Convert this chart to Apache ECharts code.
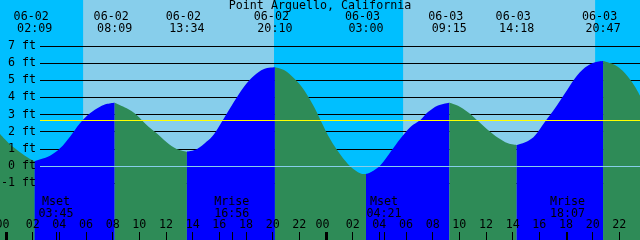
<!DOCTYPE html>
<html><head><meta charset="utf-8">
<script src="https://cdn.jsdelivr.net/npm/echarts@6/dist/echarts.min.js"></script>
<style>html,body{margin:0;padding:0;background:#00BFFF}#c{width:640px;height:240px}</style>
</head><body><div id="c"></div>
<script>
const chartTitle = 'Point Arguello, California';
const startDate = '06-02';
// tide curve (hours from 06-02 00:00, feet)
const tideHours = [-0.45, 0.3, 1.05, 1.8, 2.15, 3.3, 4.05, 4.8, 5.55, 6.3, 7.05, 7.6, 8.15, 9.05, 9.8, 10.55, 11.3, 12.05, 12.8, 13.567, 14.3, 15.05, 15.6, 16.35, 17.1, 17.85, 18.6, 19.35, 20.167, 20.85, 21.6, 22.35, 23.1, 23.6, 24.35, 25.1, 25.85, 26.6, 27.0, 27.35, 28.1, 28.85, 29.6, 30.35, 31.1, 31.65, 32.4, 33.25, 33.9, 34.65, 35.4, 36.15, 36.9, 37.65, 38.3, 39.15, 39.675, 40.425, 41.175, 41.925, 42.675, 43.425, 44.175, 44.783, 45.675, 46.425, 47.175, 47.55];
const tideFeet = [1.86, 1.26, 0.80, 0.41, 0.29, 0.60, 1.03, 1.71, 2.49, 3.07, 3.45, 3.62, 3.69, 3.36, 2.97, 2.39, 1.90, 1.38, 0.99, 0.83, 0.97, 1.42, 1.85, 2.78, 3.74, 4.62, 5.26, 5.65, 5.75, 5.59, 5.11, 4.43, 3.45, 2.65, 1.51, 0.64, -0.04, -0.43, -0.47, -0.37, 0.06, 0.83, 1.61, 2.29, 2.70, 3.14, 3.52, 3.69, 3.51, 3.13, 2.62, 2.10, 1.65, 1.32, 1.22, 1.46, 1.78, 2.58, 3.36, 4.23, 5.11, 5.73, 6.04, 6.12, 5.88, 5.40, 4.62, 4.10];
const eventDates = ['06-02', '06-02', '06-02', '06-02', '06-03', '06-03', '06-03', '06-03'];
const eventTimes = ['02:09', '08:09', '13:34', '20:10', '03:00', '09:15', '14:18', '20:47'];
const eventKinds = ['low', 'high', 'low', 'high', 'low', 'high', 'low', 'high'];
const moonNames = ['Mset', 'Mrise', 'Mset', 'Mrise'];
const moonDates = ['06-02', '06-02', '06-03', '06-03'];
const moonTimes = ['03:45', '16:56', '04:21', '18:07'];
const sunDates = ['06-02', '06-03'];
const sunriseTimes = ['05:47', '05:47'];
const sunsetTimes = ['20:06', '20:11'];
const heightTicks = [-1, 0, 1, 2, 3, 4, 5, 6, 7];
const meanLevel = 2.67;
const hourTicks = [0, 2, 4, 6, 8, 10, 12, 14, 16, 18, 20, 22, 24, 26, 28, 30, 32, 34, 36, 38, 40, 42, 44, 46];
const midnightTicks = [0, 24];

const X_MIN = -0.45, X_MAX = 47.55, Y_MIN = -4.31, Y_MAX = 9.667;
const FONT = 'DejaVu Sans Mono', FS = 11.67;
const C_NIGHT = '#00BFFF', C_DAY = '#87CEEB', C_RISE = '#0000FF', C_FALL = '#2E8B57';

function dayIndex(d) { return parseInt(d.split('-')[1], 10) - parseInt(startDate.split('-')[1], 10); }
function toHours(d, t) { const p = t.split(':').map(Number); return dayIndex(d) * 24 + p[0] + p[1] / 60; }
const pad = n => (n < 10 ? '0' : '') + n;

const evH = eventTimes.map((t, i) => toHours(eventDates[i], t));
const moonH = moonTimes.map((t, i) => toHours(moonDates[i], t));
const dayBands = sunDates.map((d, i) => [{ xAxis: toHours(d, sunriseTimes[i]) }, { xAxis: toHours(d, sunsetTimes[i]) }]);

const txt = { color: '#000', fontFamily: FONT, fontSize: FS, lineHeight: 12 };
const off = { show: false };
const lineOff = { show: false, onZero: false };

// tide segments: rising = blue, falling = green
const bounds = [tideHours[0]].concat(evH, [tideHours[tideHours.length - 1]]);
const segSeries = [];
for (let k = 0; k < bounds.length - 1; k++) {
  const a = bounds[k] - 0.002, b = bounds[k + 1] + 0.002;
  const pts = [];
  tideHours.forEach((t, i) => { if (t >= a && t <= b) pts.push([t, tideFeet[i]]); });
  let rising;
  if (k < evH.length) rising = eventKinds[k] === 'high';
  else rising = eventKinds[evH.length - 1] === 'low';
  segSeries.push({
    type: 'line', xAxisIndex: 0, yAxisIndex: 0, data: pts, smooth: 0.35, symbol: 'none',
    lineStyle: { width: 0 }, areaStyle: { color: rising ? C_RISE : C_FALL, opacity: 1, origin: 'start' },
    z: 3, silent: true
  });
}

const baseX = { type: 'value', gridIndex: 0, min: X_MIN, max: X_MAX, splitLine: off, axisLine: lineOff, axisTick: off, axisLabel: off, z: 5 };
const baseY = { type: 'value', min: Y_MIN, max: Y_MAX, splitLine: off, axisLine: lineOff, axisTick: off, axisLabel: off };

const option = {
  animation: false,
  backgroundColor: C_NIGHT,
  title: { text: chartTitle, left: 'center', top: 0, padding: 0, textStyle: Object.assign({ fontWeight: 'normal' }, txt) },
  grid: [
    { left: 0, right: 0, top: 0, bottom: 0, show: true, backgroundColor: C_NIGHT, borderWidth: 0, containLabel: false, outerBoundsMode: 'none' },
    { left: 40, right: 0, top: 0, bottom: 0, containLabel: false, outerBoundsMode: 'none' }
  ],
  xAxis: [
    Object.assign({}, baseX, {
      position: 'bottom',
      axisTick: { show: true, inside: true, length: 8, customValues: hourTicks, lineStyle: { color: '#000', width: 1 } },
      axisLabel: Object.assign({ show: true, inside: true, margin: 9, customValues: hourTicks,
        formatter: v => { const h = ((Math.round(v) % 24) + 24) % 24; return pad(h) + (h === 0 ? ' ' : ''); } }, txt)
    }),
    Object.assign({}, baseX, {
      position: 'bottom',
      axisTick: { show: true, inside: true, length: 8, customValues: midnightTicks, lineStyle: { color: '#000', width: 3 } }
    }),
    Object.assign({}, baseX, {
      position: 'bottom',
      axisTick: { show: true, inside: true, length: 8, customValues: moonH, lineStyle: { color: '#000', width: 1 } },
      axisLabel: Object.assign({ show: true, inside: true, margin: 20, customValues: moonH,
        formatter: v => { const i = moonH.findIndex(m => Math.abs(m - v) < 1e-6); return i < 0 ? '' : moonNames[i] + '\n' + moonTimes[i]; } }, txt)
    }),
    Object.assign({}, baseX, {
      position: 'top',
      axisLabel: Object.assign({ show: true, inside: true, margin: 11, customValues: evH,
        formatter: v => { const i = evH.findIndex(m => Math.abs(m - v) < 1e-6); return i < 0 ? '' : eventDates[i] + ' \n' + eventTimes[i]; } }, txt)
    }),
    { type: 'value', gridIndex: 1, min: 0, max: 1, show: false, axisLine: lineOff }
  ],
  yAxis: [
    Object.assign({}, baseY, { gridIndex: 0, z: 6,
      axisLabel: Object.assign({ show: true, inside: true, align: 'right', margin: 36, customValues: heightTicks, formatter: v => v + ' ft' }, txt)
    }),
    Object.assign({}, baseY, { gridIndex: 1, z: 2,
      axisTick: { show: false, customValues: heightTicks },
      splitLine: { show: true, lineStyle: { color: '#000', width: 1 } }
    }),
    Object.assign({}, baseY, { gridIndex: 1, z: 4,
      axisTick: { show: false, customValues: [0] },
      splitLine: { show: true, lineStyle: { color: C_DAY, width: 1 } }
    }),
    Object.assign({}, baseY, { gridIndex: 1, z: 4,
      axisTick: { show: false, customValues: [meanLevel] },
      splitLine: { show: true, lineStyle: { color: '#FFFF00', width: 1 } }
    })
  ],
  series: [
    { type: 'line', xAxisIndex: 0, yAxisIndex: 0, data: [], silent: true,
      markArea: { silent: true, z: 1, itemStyle: { color: C_DAY, borderWidth: 0 }, data: dayBands } }
  ].concat(segSeries)
};

const chart = echarts.init(document.getElementById('c'), null, { renderer: 'canvas', width: 640, height: 240 });
chart.setOption(option);
</script>
</body></html>
